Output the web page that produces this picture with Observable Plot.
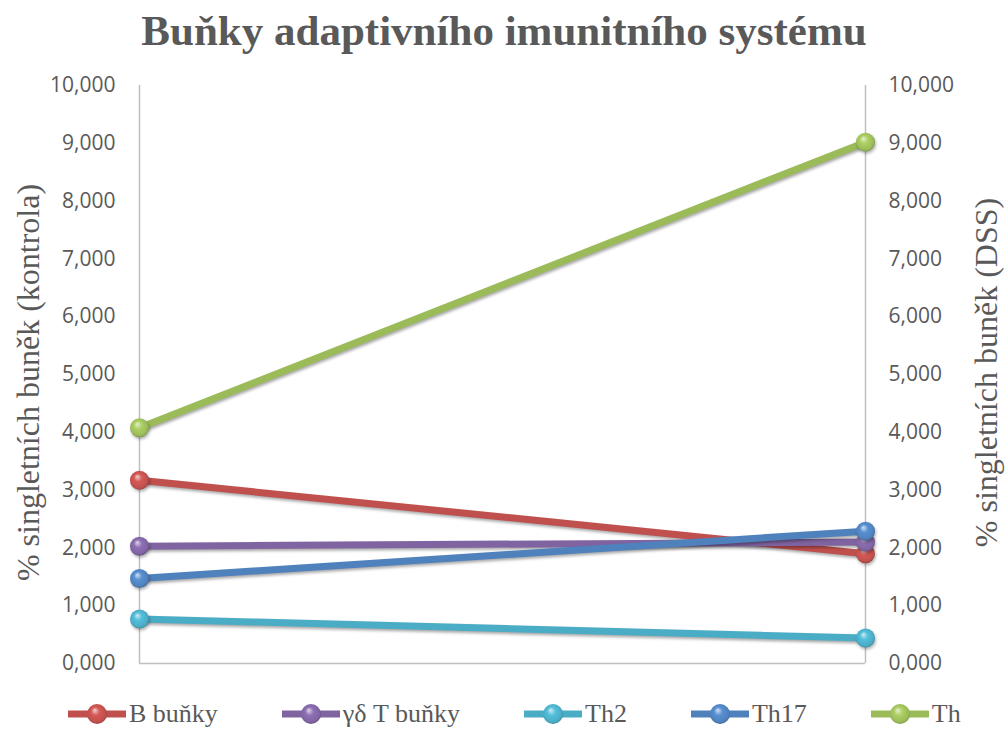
<!DOCTYPE html>
<html>
<head>
<meta charset="utf-8">
<script src="https://cdn.jsdelivr.net/npm/d3@7"></script>
<script src="https://cdn.jsdelivr.net/npm/@observablehq/plot@0.6"></script>
<style>
  html, body { margin: 0; padding: 0; background: #fff; }
  #wrap { width: 1006px; height: 733px; position: relative; overflow: hidden; }
  #title { height: 60px; text-align: center; font-family: "Liberation Serif", "Times New Roman", Times, "DejaVu Serif", serif; font-weight: bold; font-size: 43px; color: #595959; line-height: 62px; padding-left: 2px; }
  #chart svg g[aria-label="line"] path { filter: drop-shadow(1.5px 2.5px 1.5px rgba(0,0,0,0.35)); }
  #chart svg g[aria-label="dot"] circle { filter: drop-shadow(1px 2px 1.5px rgba(0,0,0,0.3)); }
  #legend { height: 38px; display: flex; align-items: center; gap: 64px; padding-left: 68px; font-family: "Liberation Serif", "Times New Roman", Times, "DejaVu Serif", serif; font-size: 26px; color: #595959; }
  .item { display: flex; align-items: center; }
  .item svg { display: block; }
</style>
</head>
<body>
<svg width="0" height="0" style="position:absolute">
  <defs id="grads"></defs>
</svg>
<div id="wrap">
  <div id="title">Buňky adaptivního imunitního systému</div>
  <div id="chart"></div>
  <div id="legend"></div>
</div>
<script>
// ---- data ----
const categories = ["kontrola", "DSS"];
const series = ["B buňky", "γδ T buňky", "Th2", "Th17", "Th"];
const kontrola = [3.17, 2.03, 0.77, 1.47, 4.08];
const dss = [1.90, 2.10, 0.44, 2.29, 9.02];
const colors = ["#C0504D", "#8064A2", "#4BACC6", "#4F81BD", "#9BBB59"];
const yTicks = [0, 1, 2, 3, 4, 5, 6, 7, 8, 9, 10];
const yLabelLeft = "% singletních buněk (kontrola)";
const yLabelRight = "% singletních buněk (DSS)";
const serifFamily = "'Liberation Serif', 'Times New Roman', Times, 'DejaVu Serif', serif";

// ---- gradients for sphere markers ----
const defs = d3.select("#grads");
colors.forEach((c, i) => {
  const base = d3.color(c);
  const g = defs.append("radialGradient")
    .attr("id", "sph" + i).attr("cx", "0.5").attr("cy", "0.5").attr("r", "0.6")
    .attr("fx", "0.38").attr("fy", "0.3");
  g.append("stop").attr("offset", "0%").attr("stop-color", d3.interpolateRgb(c, "#ffffff")(0.75));
  g.append("stop").attr("offset", "35%").attr("stop-color", base.brighter(0.3).formatHex());
  g.append("stop").attr("offset", "75%").attr("stop-color", c);
  g.append("stop").attr("offset", "100%").attr("stop-color", base.darker(1.2).formatHex());
});

// ---- table ----
const rows = [];
series.forEach((s, i) => {
  rows.push({series: s, idx: i, cat: categories[0], value: kontrola[i]});
  rows.push({series: s, idx: i, cat: categories[1], value: dss[i]});
});

const fmt = d => d.toFixed(3).replace(".", ",");

const marks = [
  Plot.ruleX(categories, {x: d => d, stroke: "#BFBFBF", strokeWidth: 1.5}),
  Plot.ruleY([0], {stroke: "#BFBFBF", strokeWidth: 1.5}),
  Plot.axisY({anchor: "left", ticks: yTicks, tickFormat: fmt, tickSize: 0, tickPadding: 24, label: null, fontSize: 21, fill: "#595959"}),
  Plot.axisY({anchor: "right", ticks: yTicks, tickFormat: fmt, tickSize: 0, tickPadding: 23, label: null, fontSize: 21, fill: "#595959", textAnchor: "start"}),
  Plot.text([yLabelLeft], {frameAnchor: "left", text: d => d, rotate: -90, textAnchor: "middle", lineAnchor: "middle", dx: -111, dy: 8, fontSize: 32, fontFamily: serifFamily, fill: "#595959"}),
  Plot.text([yLabelRight], {frameAnchor: "right", text: d => d, rotate: -90, textAnchor: "middle", lineAnchor: "middle", dx: 121, dy: -2, fontSize: 32, fontFamily: serifFamily, fill: "#595959"})
];
series.forEach((s, i) => {
  const data = rows.filter(r => r.idx === i);
  marks.push(Plot.line(data, {x: "cat", y: "value", stroke: colors[i], strokeWidth: 7, strokeLinecap: "butt"}));
});
series.forEach((s, i) => {
  const data = rows.filter(r => r.idx === i);
  marks.push(Plot.dot(data, {x: "cat", y: "value", r: 9.5, fill: `url(#sph${i})`, stroke: "none"}));
});

const chart = Plot.plot({
  width: 1006,
  height: 635,
  marginTop: 25,
  marginBottom: 32,
  marginLeft: 139,
  marginRight: 141,
  x: {type: "point", domain: categories, padding: 0, axis: null},
  y: {domain: [0, 10], axis: null},
  style: {fontFamily: "'Open Sans', sans-serif", background: "transparent", overflow: "visible"},
  marks
});
document.getElementById("chart").appendChild(chart);
d3.select(chart).selectAll("text").each(function() {
  if (this.textContent === yLabelLeft || this.textContent === yLabelRight) {
    this.style.fontFamily = serifFamily;
  }
});

// ---- legend ----
const legend = d3.select("#legend");
series.forEach((s, i) => {
  const it = legend.append("div").attr("class", "item");
  const sv = it.append("svg").attr("width", 60).attr("height", 24);
  sv.append("line").attr("x1", 0).attr("x2", 58).attr("y1", 12).attr("y2", 12)
    .attr("stroke", colors[i]).attr("stroke-width", 7);
  sv.append("circle").attr("cx", 29).attr("cy", 12).attr("r", 10).attr("fill", `url(#sph${i})`);
  it.append("span").text(s).style("margin-left", "1px");
});
</script>
</body>
</html>
